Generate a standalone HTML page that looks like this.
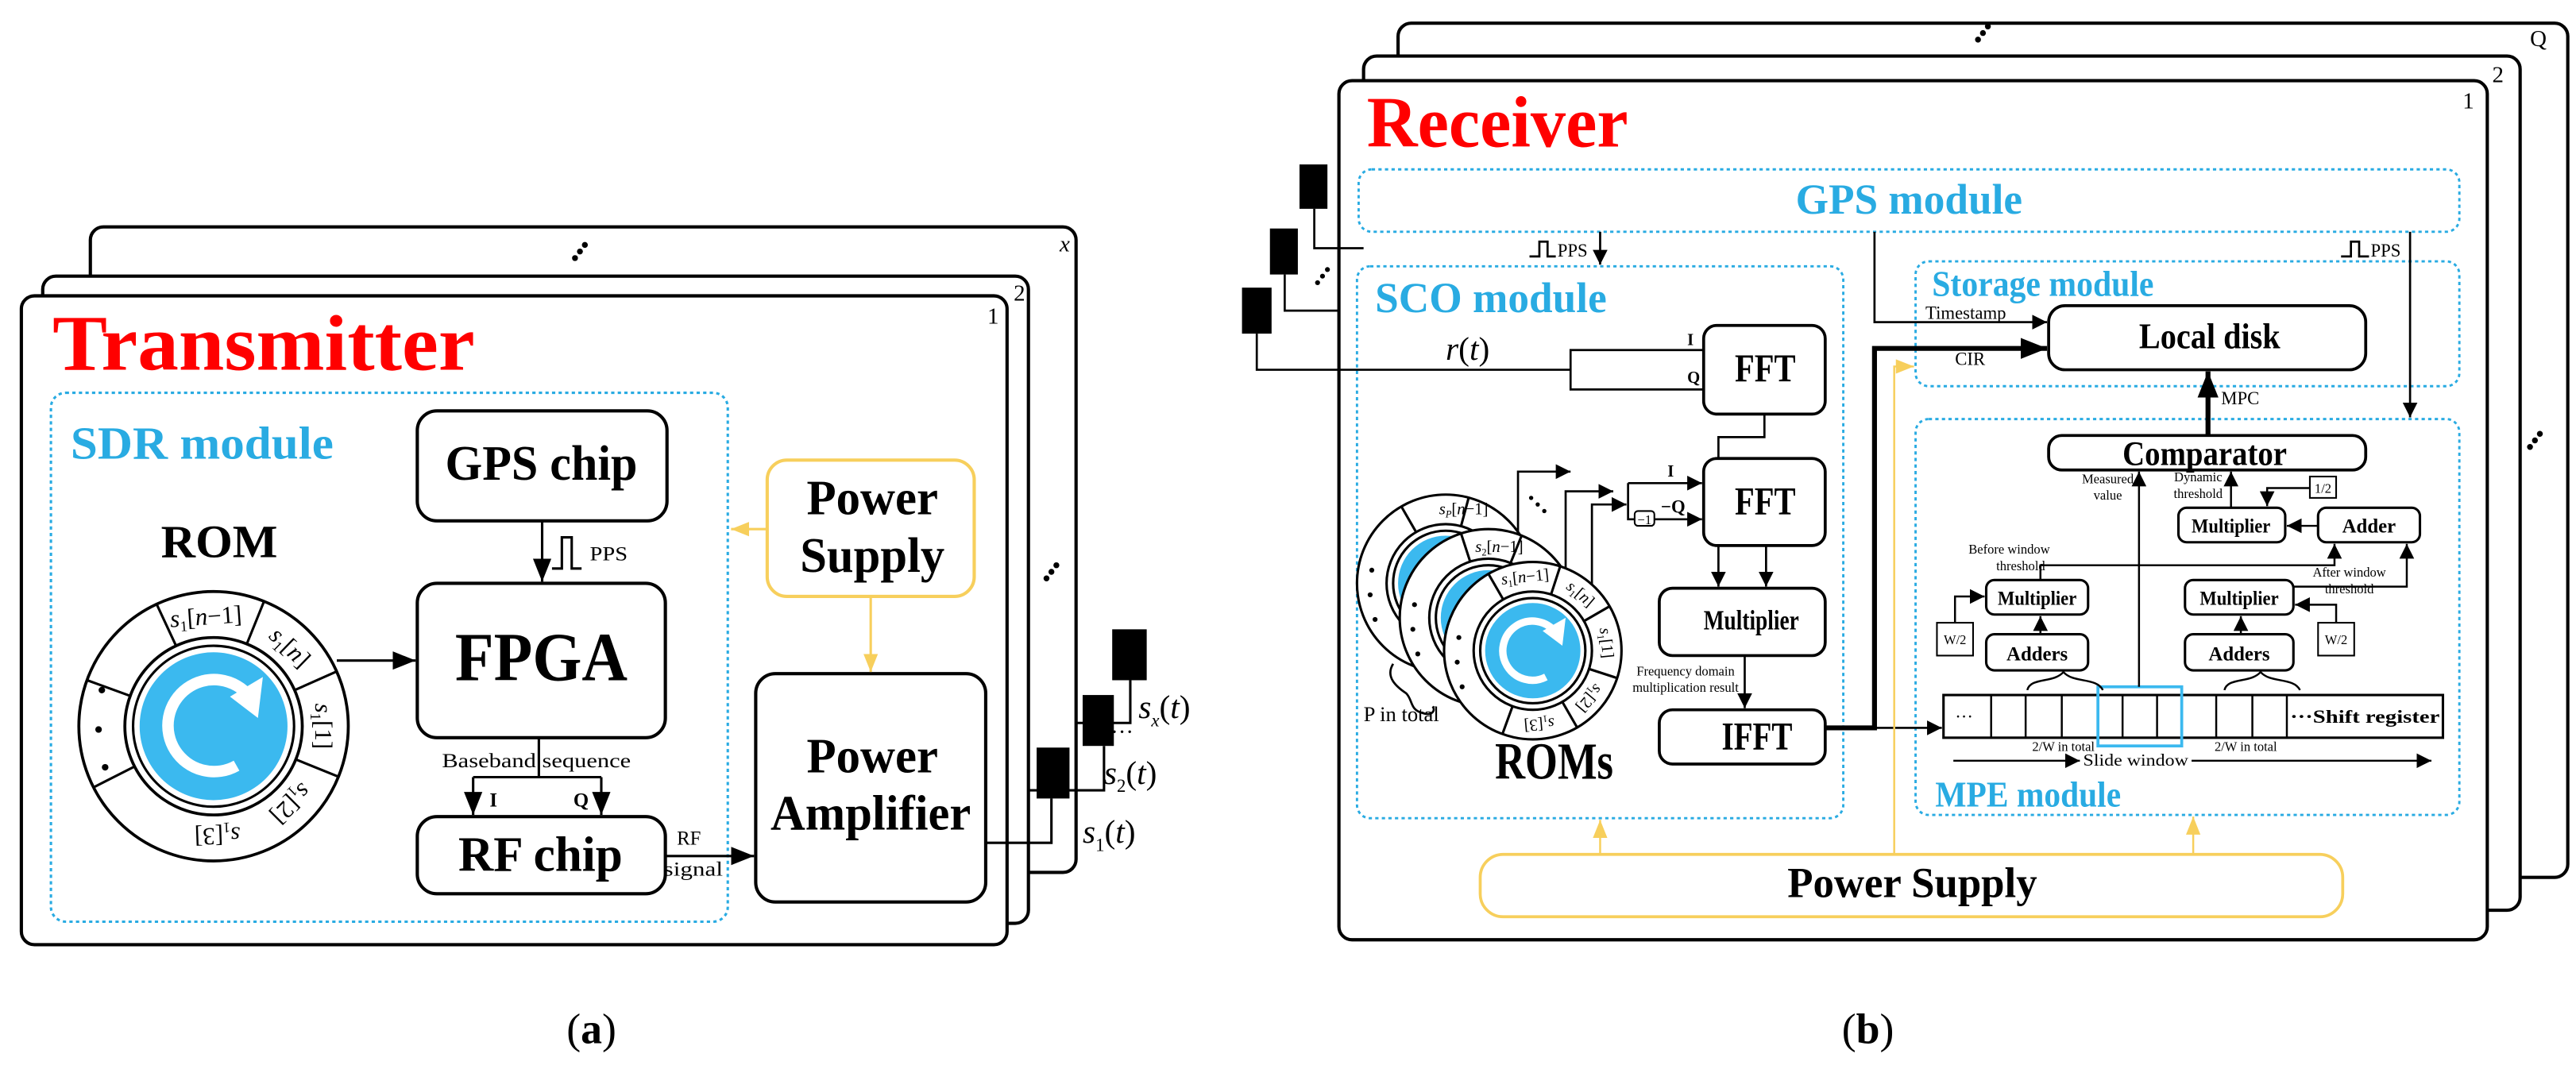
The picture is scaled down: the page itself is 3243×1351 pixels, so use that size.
<!DOCTYPE html>
<html><head><meta charset="utf-8"><style>
html,body{margin:0;padding:0;background:#fff;}
svg{display:block;}
text{font-family:"Liberation Serif",serif;}
</style></head><body>
<svg width="3243" height="1351" viewBox="0 0 1568 653" xmlns="http://www.w3.org/2000/svg">
<defs>
<marker id="ab" viewBox="0 0 10 10" refX="10" refY="5" markerWidth="9" markerHeight="9" markerUnits="userSpaceOnUse" orient="auto"><path d="M0,0L10,5L0,10z" fill="#000"/></marker>
<marker id="abL" viewBox="0 0 10 10" refX="10" refY="5" markerWidth="14" markerHeight="14" markerUnits="userSpaceOnUse" orient="auto"><path d="M0,1L10,5L0,9z" fill="#000"/></marker>
<marker id="abT" viewBox="0 0 10 10" refX="10" refY="5" markerWidth="16" markerHeight="16" markerUnits="userSpaceOnUse" orient="auto"><path d="M0,1L10,5L0,9z" fill="#000"/></marker>
<marker id="ay" viewBox="0 0 10 10" refX="10" refY="5" markerWidth="11" markerHeight="11" markerUnits="userSpaceOnUse" orient="auto"><path d="M0,1L10,5L0,9z" fill="#f7cf5c"/></marker>
</defs>

<!-- ============ (a) TRANSMITTER ============ -->
<g fill="#fff" stroke="#000" stroke-width="2">
<rect x="55" y="138" width="600" height="393" rx="8"/>
<rect x="26" y="168" width="600" height="394" rx="8"/>
<rect x="13" y="180" width="600" height="395" rx="8"/>
</g>
<text x="645" y="153" font-size="14" font-style="italic">x</text>
<text x="617" y="183" font-size="14">2</text>
<text x="601" y="197" font-size="14">1</text>
<g fill="#000"><circle cx="350" cy="157" r="1.8"/><circle cx="353" cy="153" r="1.8"/><circle cx="356" cy="149" r="1.8"/>
<circle cx="637" cy="352" r="1.8"/><circle cx="640" cy="348" r="1.8"/><circle cx="643" cy="344" r="1.8"/></g>

<text x="32" y="225" font-size="48" font-weight="bold" fill="#ff0000" textLength="257" lengthAdjust="spacingAndGlyphs">Transmitter</text>
<rect x="31" y="239" width="412" height="322" rx="9" fill="none" stroke="#29abe2" stroke-width="1.5" stroke-dasharray="2,2"/>
<text x="43" y="279" font-size="28" font-weight="bold" fill="#29abe2" textLength="160" lengthAdjust="spacingAndGlyphs">SDR module</text>
<text x="98" y="339" font-size="28" font-weight="bold" textLength="71" lengthAdjust="spacingAndGlyphs">ROM</text>

<g fill="#fff" stroke="#000" stroke-width="2">
<rect x="254" y="250" width="152" height="67" rx="12"/>
<rect x="254" y="355" width="151" height="94" rx="12"/>
<rect x="254" y="497" width="151" height="47" rx="12"/>
<rect x="460" y="410" width="140" height="139" rx="12"/>
</g>
<rect x="467" y="280" width="126" height="83" rx="12" fill="#fff" stroke="#f7cf5c" stroke-width="2"/>
<g font-weight="bold">
<text x="271" y="292" font-size="30" textLength="117" lengthAdjust="spacingAndGlyphs">GPS chip</text>
<text x="277" y="414" font-size="42" textLength="105" lengthAdjust="spacingAndGlyphs">FPGA</text>
<text x="279" y="530" font-size="30" textLength="100" lengthAdjust="spacingAndGlyphs">RF chip</text>
<text x="491" y="313" font-size="30" textLength="80" lengthAdjust="spacingAndGlyphs">Power</text>
<text x="487" y="348" font-size="30" textLength="88" lengthAdjust="spacingAndGlyphs">Supply</text>
<text x="491" y="470" font-size="30" textLength="80" lengthAdjust="spacingAndGlyphs">Power</text>
<text x="469" y="505" font-size="30" textLength="122" lengthAdjust="spacingAndGlyphs">Amplifier</text>
</g>

<g stroke="#000" stroke-width="1.5" fill="none">
<line x1="330" y1="317" x2="330" y2="354" marker-end="url(#abL)"/>
<path d="M336,346 H342 V327 H348 V346 H354"/>
<line x1="205" y1="402" x2="253" y2="402" marker-end="url(#abL)"/>
<line x1="328" y1="449" x2="328" y2="473"/>
<path d="M288,473 H366"/>
<line x1="288" y1="473" x2="288" y2="496" marker-end="url(#abL)"/>
<line x1="366" y1="473" x2="366" y2="496" marker-end="url(#abL)"/>
<line x1="405" y1="521" x2="459" y2="521" marker-end="url(#abL)"/>
<path d="M600,513 H640 V486"/>
<path d="M626,481 H672 V454"/>
<path d="M655,440 H688 V414"/>
</g>
<g stroke="#f7cf5c" stroke-width="1.5" fill="none">
<line x1="467" y1="322" x2="445" y2="322" marker-end="url(#ay)"/>
<line x1="530" y1="363" x2="530" y2="409" marker-end="url(#ay)"/>
</g>
<text x="359" y="341" font-size="12" textLength="23" lengthAdjust="spacingAndGlyphs">PPS</text>
<text x="269" y="467" font-size="12" textLength="115" lengthAdjust="spacingAndGlyphs">Baseband sequence</text>
<text x="298" y="491" font-size="12" font-weight="bold">I</text>
<text x="349" y="491" font-size="12" font-weight="bold">Q</text>
<text x="412" y="514" font-size="12">RF</text>
<text x="404" y="533" font-size="12" textLength="36" lengthAdjust="spacingAndGlyphs">signal</text>
<g fill="#000">
<rect x="631" y="455" width="20" height="31"/>
<rect x="659" y="423" width="19" height="31"/>
<rect x="677" y="383" width="21" height="31"/>
</g>
<g font-size="20">
<text x="693" y="437"><tspan font-style="italic">s</tspan><tspan font-size="11" dy="5" font-style="italic">x</tspan><tspan dy="-5">(</tspan><tspan font-style="italic">t</tspan>)</text>
<text x="672" y="477"><tspan font-style="italic">s</tspan><tspan font-size="11" dy="5">2</tspan><tspan dy="-5">(</tspan><tspan font-style="italic">t</tspan>)</text>
<text x="659" y="513"><tspan font-style="italic">s</tspan><tspan font-size="11" dy="5">1</tspan><tspan dy="-5">(</tspan><tspan font-style="italic">t</tspan>)</text>
</g>
<text x="676" y="450" font-size="14">···</text>

<g transform="translate(130,442)">
<circle r="82" fill="#fff" stroke="#000" stroke-width="1.8"/>
<circle r="54" fill="#fff" stroke="#000" stroke-width="1.8"/>
<circle r="49" fill="#fff" stroke="#000" stroke-width="1.5"/>
<circle r="45" fill="#3bb9ef"/>
<g stroke="#000" stroke-width="1.5">
<line x1="0" y1="-54" x2="0" y2="-82" transform="rotate(-117)"/>
<line x1="0" y1="-54" x2="0" y2="-82" transform="rotate(-70)"/>
<line x1="0" y1="-54" x2="0" y2="-82" transform="rotate(-25)"/>
<line x1="0" y1="-54" x2="0" y2="-82" transform="rotate(22)"/>
<line x1="0" y1="-54" x2="0" y2="-82" transform="rotate(66)"/>
<line x1="0" y1="-54" x2="0" y2="-82" transform="rotate(112)"/>
</g>
<g font-size="15" text-anchor="middle">
<text transform="rotate(-4) translate(0,-62)"><tspan font-style="italic">s</tspan><tspan font-size="9" dy="3">1</tspan><tspan dy="-3">[</tspan><tspan font-style="italic">n</tspan>−1]</text>
<text transform="rotate(44) translate(0,-62)"><tspan font-style="italic">s</tspan><tspan font-size="9" dy="3">1</tspan><tspan dy="-3">[</tspan><tspan font-style="italic">n</tspan>]</text>
<text transform="rotate(90) translate(0,-62)"><tspan font-style="italic">s</tspan><tspan font-size="9" dy="3">1</tspan><tspan dy="-3">[1]</tspan></text>
<text transform="rotate(135) translate(0,-62)"><tspan font-style="italic">s</tspan><tspan font-size="9" dy="3">1</tspan><tspan dy="-3">[2]</tspan></text>
<text transform="rotate(178) translate(0,-62)"><tspan font-style="italic">s</tspan><tspan font-size="9" dy="3">1</tspan><tspan dy="-3">[3]</tspan></text>
</g>
<g fill="#000"><circle cx="-68" cy="-22" r="2"/><circle cx="-70" cy="2" r="2"/><circle cx="-66" cy="25" r="2"/></g>
<path d="M14,24 A28,28 0 1 1 22,-18" fill="none" stroke="#fff" stroke-width="7"/>
<path d="M10,-18 L30,-30 L27,-5 z" fill="#fff"/>
</g>

<text x="360" y="635" font-size="26" text-anchor="middle">(<tspan font-weight="bold">a</tspan>)</text>

<!-- ============ (b) RECEIVER ============ -->
<g fill="#fff" stroke="#000" stroke-width="2">
<rect x="851" y="14" width="712" height="520" rx="8"/>
<rect x="830" y="34" width="704" height="520" rx="8"/>
<rect x="815" y="49" width="699" height="523" rx="8"/>
</g>
<text x="1540" y="28" font-size="14">Q</text>
<text x="1517" y="50" font-size="14">2</text>
<text x="1499" y="66" font-size="14">1</text>
<g fill="#000"><circle cx="1204" cy="24" r="1.8"/><circle cx="1207" cy="20" r="1.8"/><circle cx="1210" cy="16" r="1.8"/>
<circle cx="1540" cy="272" r="1.8"/><circle cx="1543" cy="268" r="1.8"/><circle cx="1546" cy="264" r="1.8"/></g>

<text x="832" y="89" font-size="44" font-weight="bold" fill="#ff0000" textLength="159" lengthAdjust="spacingAndGlyphs">Receiver</text>

<g fill="none" stroke="#29abe2" stroke-width="1.4" stroke-dasharray="2,2">
<rect x="827" y="103" width="670" height="38" rx="8"/>
<rect x="826" y="162" width="296" height="336" rx="8"/>
<rect x="1166" y="159" width="331" height="76" rx="8"/>
<rect x="1166" y="255" width="331" height="241" rx="8"/>
</g>
<g fill="#29abe2" font-size="26" font-weight="bold">
<text x="1093" y="130" textLength="138" lengthAdjust="spacingAndGlyphs">GPS module</text>
<text x="837" y="190" textLength="141" lengthAdjust="spacingAndGlyphs">SCO module</text>
<text x="1176" y="180" font-size="22" textLength="135" lengthAdjust="spacingAndGlyphs">Storage module</text>
<text x="1178" y="491" font-size="22" textLength="113" lengthAdjust="spacingAndGlyphs">MPE module</text>
</g>
<rect x="901" y="520" width="525" height="38" rx="14" fill="#fff" stroke="#f7cf5c" stroke-width="1.8"/>
<text x="1088" y="546" font-size="26" font-weight="bold" textLength="152" lengthAdjust="spacingAndGlyphs">Power Supply</text>

<g fill="#fff" stroke="#000" stroke-width="1.8">
<rect x="1037" y="198" width="74" height="54" rx="8"/>
<rect x="1037" y="279" width="74" height="53" rx="8"/>
<rect x="1010" y="358" width="101" height="41" rx="8"/>
<rect x="1010" y="432" width="101" height="33" rx="8"/>
</g>
<g font-weight="bold">
<text x="1056" y="232" font-size="24" textLength="37" lengthAdjust="spacingAndGlyphs">FFT</text>
<text x="1056" y="313" font-size="24" textLength="37" lengthAdjust="spacingAndGlyphs">FFT</text>
<text x="1037" y="383" font-size="17" textLength="58" lengthAdjust="spacingAndGlyphs">Multiplier</text>
<text x="1048" y="456" font-size="24" textLength="43" lengthAdjust="spacingAndGlyphs">IFFT</text>
<text x="910" y="474" font-size="32" textLength="72" lengthAdjust="spacingAndGlyphs">ROMs</text>
</g>

<g fill="#000">
<rect x="791" y="100" width="17" height="27"/>
<rect x="773" y="139" width="17" height="28"/>
<rect x="756" y="175" width="18" height="28"/>
<circle cx="802" cy="172" r="1.5"/><circle cx="805" cy="168" r="1.5"/><circle cx="808" cy="164" r="1.5"/>
</g>
<g stroke="#000" stroke-width="1.3" fill="none">
<path d="M800,127 V151 H830"/>
<path d="M782,167 V189 H815"/>
<path d="M765,203 V225 H956"/>
<path d="M1037,213 H956 V237 H1037"/>
<path d="M1074,252 V266 H1046 V279"/>
<line x1="991" y1="294" x2="1036" y2="294" marker-end="url(#ab)"/>
<line x1="1007" y1="316" x2="1036" y2="316" marker-end="url(#ab)"/>
<path d="M991,294 V316 H995"/>
<line x1="1046" y1="332" x2="1046" y2="357" marker-end="url(#ab)"/>
<line x1="1075" y1="332" x2="1075" y2="357" marker-end="url(#ab)"/>
<line x1="1062" y1="399" x2="1062" y2="431" marker-end="url(#ab)"/>
<path d="M924,330 V287 H956" marker-end="url(#ab)"/>
<path d="M953,350 V299 H982" marker-end="url(#ab)"/>
<path d="M969,370 V307 H990" marker-end="url(#ab)"/>
<line x1="974" y1="141" x2="974" y2="161" marker-end="url(#ab)"/>
<path d="M931,156 H937 V147 H942 V156 H947"/>
<path d="M1141,141 V196 H1246" marker-end="url(#ab)"/>
<path d="M1467,141 V254" marker-end="url(#ab)"/>
<path d="M1425,156 H1431 V147 H1436 V156 H1442"/>
<line x1="1141" y1="443" x2="1182" y2="443" marker-end="url(#ab)"/>
</g>
<rect x="995" y="311" width="12" height="9" rx="2" fill="#fff" stroke="#000" stroke-width="1"/>
<text x="1001" y="319" font-size="8" text-anchor="middle">−1</text>
<text x="1027" y="210" font-size="10" font-weight="bold">I</text>
<text x="1027" y="233" font-size="10" font-weight="bold">Q</text>
<text x="1015" y="290" font-size="10" font-weight="bold">I</text>
<text x="1011" y="312" font-size="11" font-weight="bold">−Q</text>
<text x="880" y="219" font-size="20"><tspan font-style="italic">r</tspan>(<tspan font-style="italic">t</tspan>)</text>
<text x="948" y="156" font-size="11">PPS</text>
<text x="1443" y="156" font-size="11">PPS</text>
<text x="1026" y="411" font-size="8" text-anchor="middle">Frequency domain</text>
<text x="1026" y="421" font-size="8" text-anchor="middle">multiplication result</text>
<text x="830" y="439" font-size="13" textLength="46" lengthAdjust="spacingAndGlyphs">P in total</text>
<g fill="#000"><circle cx="932" cy="303" r="1.3"/><circle cx="936" cy="307" r="1.3"/><circle cx="940" cy="311" r="1.3"/></g>
<path d="M848,404 C843,412 850,418 856,422 C860,426 858,432 866,434 C872,436 874,432 872,430" fill="none" stroke="#000" stroke-width="1.3"/>

<g stroke="#000" stroke-width="1.5">
<g transform="translate(880,355)">
<circle r="54" fill="#fff"/><circle r="36" fill="#fff"/><circle r="32" fill="#fff"/><circle r="29" fill="#3bb9ef" stroke="none"/>
<line x1="0" y1="-36" x2="0" y2="-54" transform="rotate(-30)"/><line x1="0" y1="-36" x2="0" y2="-54" transform="rotate(15)"/>
<text transform="translate(-4,-42)" font-size="10" stroke="none" fill="#000"><tspan font-style="italic">s</tspan><tspan font-size="6" dy="2" font-style="italic">P</tspan><tspan dy="-2">[</tspan><tspan font-style="italic">n</tspan>−1]</text>
<g fill="#000" stroke="none"><circle cx="-45" cy="-8" r="1.5"/><circle cx="-46" cy="7" r="1.5"/><circle cx="-43" cy="22" r="1.5"/></g>
</g>
<g transform="translate(906,376)">
<circle r="54" fill="#fff"/><circle r="36" fill="#fff"/><circle r="32" fill="#fff"/><circle r="29" fill="#3bb9ef" stroke="none"/>
<line x1="0" y1="-36" x2="0" y2="-54" transform="rotate(-18)"/><line x1="0" y1="-36" x2="0" y2="-54" transform="rotate(22)"/>
<text transform="translate(-8,-40)" font-size="10" stroke="none" fill="#000"><tspan font-style="italic">s</tspan><tspan font-size="6" dy="2">2</tspan><tspan dy="-2">[</tspan><tspan font-style="italic">n</tspan>−1]</text>
<g fill="#000" stroke="none"><circle cx="-45" cy="-8" r="1.5"/><circle cx="-46" cy="7" r="1.5"/><circle cx="-43" cy="22" r="1.5"/></g>
</g>
<g transform="translate(933,396)">
<circle r="54" fill="#fff"/><circle r="36" fill="#fff"/><circle r="32" fill="#fff"/><circle r="29" fill="#3bb9ef" stroke="none"/>
<line x1="0" y1="-36" x2="0" y2="-54" transform="rotate(-30)"/>
<line x1="0" y1="-36" x2="0" y2="-54" transform="rotate(18)"/>
<line x1="0" y1="-36" x2="0" y2="-54" transform="rotate(60)"/>
<line x1="0" y1="-36" x2="0" y2="-54" transform="rotate(108)"/>
<line x1="0" y1="-36" x2="0" y2="-54" transform="rotate(150)"/>
<line x1="0" y1="-36" x2="0" y2="-54" transform="rotate(200)"/>
<g stroke="none" fill="#000" font-size="10" text-anchor="middle">
<text transform="rotate(-6) translate(0,-42)"><tspan font-style="italic">s</tspan><tspan font-size="6" dy="2">1</tspan><tspan dy="-2">[</tspan><tspan font-style="italic">n</tspan>−1]</text>
<text transform="rotate(40) translate(0,-42)"><tspan font-style="italic">s</tspan><tspan font-size="6" dy="2">1</tspan><tspan dy="-2">[</tspan><tspan font-style="italic">n</tspan>]</text>
<text transform="rotate(84) translate(0,-42)"><tspan font-style="italic">s</tspan><tspan font-size="6" dy="2">1</tspan><tspan dy="-2">[1]</tspan></text>
<text transform="rotate(130) translate(0,-42)"><tspan font-style="italic">s</tspan><tspan font-size="6" dy="2">1</tspan><tspan dy="-2">[2]</tspan></text>
<text transform="rotate(175) translate(0,-42)"><tspan font-style="italic">s</tspan><tspan font-size="6" dy="2">1</tspan><tspan dy="-2">[3]</tspan></text>
<circle cx="-45" cy="-8" r="1.5"/><circle cx="-46" cy="7" r="1.5"/><circle cx="-43" cy="22" r="1.5"/>
</g>
<path d="M8,16 A18,18 0 1 1 14,-11" fill="none" stroke="#fff" stroke-width="4.5"/>
<path d="M6,-12 L20,-20 L18,-3 z" fill="#fff" stroke="none"/>
</g>
</g>

<g fill="#fff" stroke="#000" stroke-width="1.8">
<rect x="1247" y="186" width="193" height="39" rx="10"/>
<rect x="1247" y="265" width="193" height="21" rx="8"/>
</g>
<text x="1302" y="212" font-size="22" font-weight="bold" textLength="86" lengthAdjust="spacingAndGlyphs">Local disk</text>
<text x="1292" y="283" font-size="21" font-weight="bold" textLength="100" lengthAdjust="spacingAndGlyphs">Comparator</text>
<g fill="#fff" stroke="#000" stroke-width="1.5">
<rect x="1326" y="309" width="65" height="21" rx="5"/>
<rect x="1411" y="309" width="62" height="21" rx="5"/>
<rect x="1209" y="353" width="62" height="21" rx="5"/>
<rect x="1209" y="386" width="62" height="22" rx="5"/>
<rect x="1330" y="353" width="66" height="21" rx="5"/>
<rect x="1330" y="386" width="66" height="22" rx="5"/>
</g>
<g fill="#fff" stroke="#000" stroke-width="1">
<rect x="1179" y="379" width="22" height="20"/>
<rect x="1411" y="379" width="22" height="20"/>
<rect x="1406" y="290" width="16" height="13"/>
</g>
<g font-size="12" font-weight="bold" text-anchor="middle">
<text x="1358" y="324" textLength="48" lengthAdjust="spacingAndGlyphs">Multiplier</text>
<text x="1442" y="324">Adder</text>
<text x="1240" y="368" textLength="48" lengthAdjust="spacingAndGlyphs">Multiplier</text>
<text x="1240" y="402">Adders</text>
<text x="1363" y="368" textLength="48" lengthAdjust="spacingAndGlyphs">Multiplier</text>
<text x="1363" y="402">Adders</text>
</g>
<g font-size="8" text-anchor="middle">
<text x="1190" y="392">W/2</text><text x="1422" y="392">W/2</text><text x="1414" y="300">1/2</text>
<text x="1283" y="294">Measured</text><text x="1283" y="304">value</text>
<text x="1338" y="293">Dynamic</text><text x="1338" y="303">threshold</text>
<text x="1223" y="337">Before window</text><text x="1230" y="347">threshold</text>
<text x="1430" y="351">After window</text><text x="1430" y="361">threshold</text>
<text x="1256" y="457">2/W in total</text><text x="1367" y="457">2/W in total</text>
</g>
<text x="1172" y="194" font-size="11">Timestamp</text>
<text x="1190" y="222" font-size="11">CIR</text>
<text x="1352" y="246" font-size="11">MPC</text>

<rect x="1183" y="423" width="304" height="26" fill="#fff" stroke="#000" stroke-width="1.5"/>
<g stroke="#000" stroke-width="1.2">
<line x1="1212" y1="423" x2="1212" y2="449"/><line x1="1233" y1="423" x2="1233" y2="449"/>
<line x1="1255" y1="423" x2="1255" y2="449"/><line x1="1277" y1="423" x2="1277" y2="449"/>
<line x1="1292" y1="423" x2="1292" y2="449"/><line x1="1313" y1="423" x2="1313" y2="449"/>
<line x1="1328" y1="423" x2="1328" y2="449"/><line x1="1349" y1="423" x2="1349" y2="449"/>
<line x1="1371" y1="423" x2="1371" y2="449"/><line x1="1392" y1="423" x2="1392" y2="449"/>
</g>
<rect x="1277" y="418" width="51" height="36" fill="none" stroke="#3bb9ef" stroke-width="1.8"/>
<text x="1190" y="440" font-size="11">···</text>
<text x="1394" y="440" font-size="11" font-weight="bold" textLength="91" lengthAdjust="spacingAndGlyphs">···Shift register</text>
<text x="1268" y="466" font-size="10" textLength="64" lengthAdjust="spacingAndGlyphs">Slide window</text>

<g stroke="#000" stroke-width="1.2" fill="none">
<line x1="1189" y1="463" x2="1266" y2="463" marker-end="url(#ab)"/>
<line x1="1334" y1="463" x2="1480" y2="463" marker-end="url(#ab)"/>
<line x1="1302" y1="418" x2="1302" y2="287" marker-end="url(#ab)"/>
<line x1="1358" y1="309" x2="1358" y2="287" marker-end="url(#ab)"/>
<path d="M1406,297 H1380 V308" marker-end="url(#ab)"/>
<line x1="1411" y1="320" x2="1392" y2="320" marker-end="url(#ab)"/>
<path d="M1242,353 V344 H1421 V331" marker-end="url(#ab)"/>
<path d="M1396,357 H1465 V331" marker-end="url(#ab)"/>
<path d="M1190,379 V363 H1208" marker-end="url(#ab)"/>
<path d="M1422,379 V368 H1397" marker-end="url(#ab)"/>
<line x1="1242" y1="386" x2="1242" y2="375" marker-end="url(#ab)"/>
<line x1="1364" y1="386" x2="1364" y2="375" marker-end="url(#ab)"/>
<path d="M1234,420 C1236,412 1250,416 1256,409 C1262,416 1276,412 1280,420"/>
<path d="M1354,420 C1356,412 1370,416 1376,409 C1382,416 1396,412 1400,420"/>
</g>
<g stroke="#000" stroke-width="3" fill="none">
<path d="M1111,443 H1141 V212 H1246" marker-end="url(#abT)"/>
<line x1="1344" y1="265" x2="1344" y2="226" marker-end="url(#abT)"/>
</g>
<g stroke="#f7cf5c" stroke-width="1.2" fill="none">
<line x1="974" y1="520" x2="974" y2="499" marker-end="url(#ay)"/>
<line x1="1335" y1="520" x2="1335" y2="497" marker-end="url(#ay)"/>
<path d="M1153,520 V223 H1165" marker-end="url(#ay)"/>
</g>

<text x="1137" y="635" font-size="26" text-anchor="middle">(<tspan font-weight="bold">b</tspan>)</text>
</svg>
</body></html>
